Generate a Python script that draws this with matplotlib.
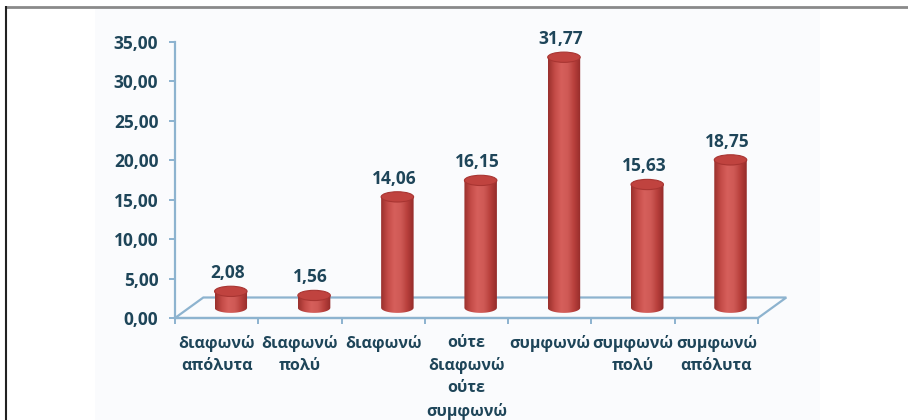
import numpy as np
import matplotlib.pyplot as plt
from matplotlib.patches import Polygon, Ellipse
from matplotlib.colors import LinearSegmentedColormap
from matplotlib.ticker import FuncFormatter

categories = ["διαφωνώ\nαπόλυτα", "διαφωνώ\nπολύ", "διαφωνώ",
              "ούτε\nδιαφωνώ\nούτε\nσυμφωνώ", "συμφωνώ",
              "συμφωνώ\nπολύ", "συμφωνώ\nαπόλυτα"]
values = [2.08, 1.56, 14.06, 16.15, 31.77, 15.63, 18.75]
yticks = [0, 5, 10, 15, 20, 25, 30, 35]

text_col = "#1e4559"
axis_col = "#8db3cf"
font = ["Open Sans", "DejaVu Sans"]

plt.rcParams['font.family'] = font

fig = plt.figure(figsize=(9.08, 4.2), dpi=100)
fig.patch.set_facecolor("white")

# background axes in pixel units: light panel and the partial frame (top, left)
bg = fig.add_axes([0, 0, 1, 1], zorder=-1)
bg.set_xlim(0, 908)
bg.set_ylim(420, 0)
bg.axis("off")
bg.axvspan(95, 820, ymin=0, ymax=1 - 9 / 420, color="#fafbfd", lw=0)
bg.plot([6, 908], [7, 7], color="#8a8a8a", lw=2, solid_capstyle="butt")
bg.plot([6, 6], [6, 420], color="#222222", lw=1.5, solid_capstyle="butt")

ax = fig.add_axes([175 / 908, 102 / 420, 583 / 908, 276 / 420])
ax.set_facecolor("none")

n = len(values)
xlim = (-0.5, n - 0.5)
ylim = (0, 35)

# depth of the 3d floor, in data units
dx, dy = 0.34, 2.6
bw = 0.39     # bar width (category units)
eh = 1.3      # ellipse height (value units)

# floor outline
floor = Polygon([(xlim[0], 0), (xlim[0] + dx, dy), (xlim[1] + dx, dy), (xlim[1], 0)],
                closed=True, fill=False, edgecolor=axis_col, lw=1.6, clip_on=False, zorder=1)
ax.add_patch(floor)

cmap = LinearSegmentedColormap.from_list(
    "cyl", ["#9a302d", "#c44b47", "#d65f5b", "#cf5a56", "#b8403c", "#952c2a"])
grad = np.linspace(0, 1, 64).reshape(1, -1)

for i, v in enumerate(values):
    xc = i + dx / 2
    base = dy / 2
    top = v + dy / 2
    x0, x1 = xc - bw / 2, xc + bw / 2
    t = np.linspace(0, np.pi, 40)
    arc_x = xc + (bw / 2) * np.cos(t)
    arc_y = base - (eh / 2) * np.sin(t)
    pts = [(x0, top), (x1, top)] + list(zip(arc_x, arc_y))
    body = Polygon(pts, closed=True, facecolor="none", edgecolor="none")
    ax.add_patch(body)
    im = ax.imshow(grad, cmap=cmap, extent=[x0, x1, base - eh / 2, top],
                   aspect="auto", origin="lower", zorder=3)
    im.set_clip_path(body)
    ax.add_patch(Ellipse((xc, top), bw, eh, facecolor="#c0433f",
                         edgecolor="#a83532", lw=0.8, zorder=4, clip_on=False))
    ax.annotate(f"{v:.2f}".replace(".", ","), (xc - 0.04, top + eh / 2),
                xytext=(0, 3), textcoords="offset points", ha="center", va="bottom",
                fontsize=12.5, fontweight="bold", color=text_col, zorder=5,
                annotation_clip=False)

ax.set_xlim(*xlim)
ax.set_ylim(*ylim)

for s in ["top", "right"]:
    ax.spines[s].set_visible(False)
for s in ["left", "bottom"]:
    ax.spines[s].set_color(axis_col)
    ax.spines[s].set_linewidth(1.6)

ax.set_yticks(yticks)
ax.yaxis.set_major_formatter(FuncFormatter(lambda y, p: f"{y:.2f}".replace(".", ",")))
ax.tick_params(axis="y", colors=axis_col, length=4, width=1.4, pad=8,
               labelsize=12.5, labelcolor=text_col)
for lab in ax.get_yticklabels():
    lab.set_fontweight("bold")

ax.set_xticks(range(n))
ax.set_xticklabels(categories)
ax.set_xticks(np.arange(n + 1) - 0.5, minor=True)
ax.tick_params(axis="x", which="major", length=0, pad=12, labelsize=11.5,
               labelcolor=text_col)
ax.tick_params(axis="x", which="minor", length=4, width=1.4, color=axis_col)
for lab in ax.get_xticklabels():
    lab.set_fontweight("bold")
    lab.set_linespacing(1.5)
    lab.set_verticalalignment("top")

fig.savefig("out.png", dpi=100)
